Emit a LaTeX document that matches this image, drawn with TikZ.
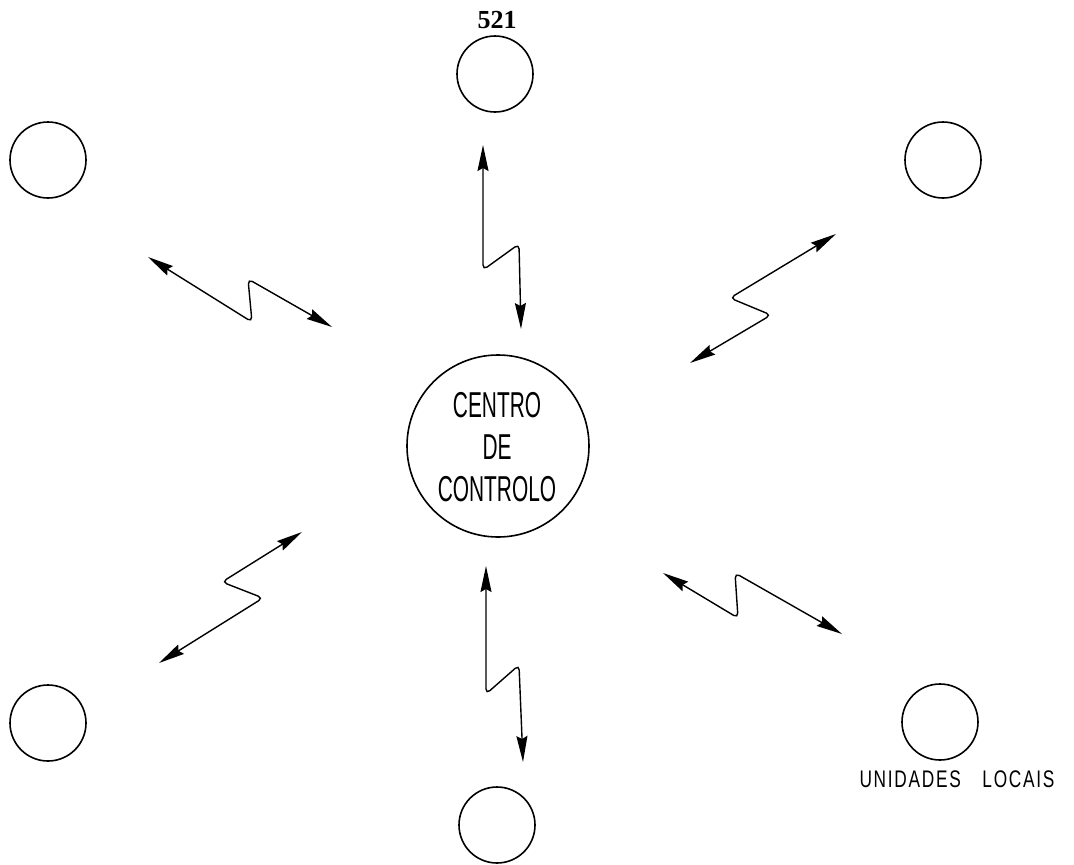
\documentclass[tikz,border=0pt]{standalone}
\usepackage{fontspec}
\setmainfont{Liberation Serif}
\newfontfamily\labelfont{Liberation Sans}
\newfontfamily\spacedfont[LetterSpace=10]{Liberation Sans}
\usetikzlibrary{arrows.meta}
\begin{document}
\begin{tikzpicture}[x=1pt,y=-1pt,
  unit/.style={draw,circle,line width=1.6pt,minimum size=76pt,inner sep=0pt},
  centre/.style={draw,circle,line width=1.6pt,minimum size=182pt,inner sep=0pt},
  link/.style={line width=1.4pt,rounded corners=5pt,
    arrows={Stealth[length=26pt,width=11pt,inset=3pt]-Stealth[length=26pt,width=11pt,inset=3pt]}}]
\useasboundingbox (0,0) rectangle (1074,865);
% nodes
\node[centre] (cc) at (498,446) {};
\node[align=center,font=\labelfont\fontsize{36}{42}\selectfont] (cctext) at (497,447)
  {\scalebox{0.58}[1]{CENTRO}\\\scalebox{0.58}[1]{DE}\\\scalebox{0.58}[1]{CONTROLO}};
\node[unit] (top) at (495,74) {};
\node[unit] (tl) at (48,160) {};
\node[unit] (tr) at (943,160) {};
\node[unit] (bl) at (48,723) {};
\node[unit] (br) at (940,722) {};
\node[unit] (bot) at (497,825) {};
\node[font=\bfseries\fontsize{26}{30}\selectfont] (num) at (497,20) {521};
\node[font=\spacedfont\fontsize{24}{28}\selectfont] (lab) at (957,779) {\scalebox{0.72}[1]{UNIDADES\hspace{30pt}LOCAIS}};
% connector points
\coordinate (t1) at (483,145); \coordinate (t2) at (483,270); \coordinate (t3) at (519,244); \coordinate (t4) at (521,329);
\coordinate (b1) at (486,566); \coordinate (b2) at (486,694); \coordinate (b3) at (519,665); \coordinate (b4) at (523,762);
\coordinate (l1) at (148,257); \coordinate (l2) at (252,322); \coordinate (l3) at (248,279); \coordinate (l4) at (332,327);
\coordinate (r1) at (836,234); \coordinate (r2) at (730,298); \coordinate (r3) at (771,315); \coordinate (r4) at (690,363);
\coordinate (m1) at (302,532); \coordinate (m2) at (222,582); \coordinate (m3) at (263,598); \coordinate (m4) at (159,663);
\coordinate (n1) at (663,573); \coordinate (n2) at (738,618); \coordinate (n3) at (735,573); \coordinate (n4) at (842,634);
% connectors
\draw[link] (t1) -- (t2) -- (t3) -- (t4);
\draw[link] (b1) -- (b2) -- (b3) -- (b4);
\draw[link] (l1) -- (l2) -- (l3) -- (l4);
\draw[link] (r1) -- (r2) -- (r3) -- (r4);
\draw[link] (m1) -- (m2) -- (m3) -- (m4);
\draw[link] (n1) -- (n2) -- (n3) -- (n4);
\end{tikzpicture}
\end{document}
